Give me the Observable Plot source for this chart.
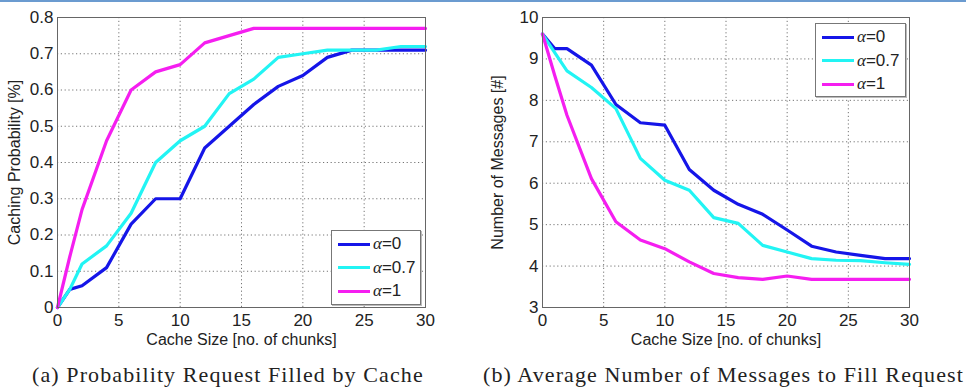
<!DOCTYPE html>
<html>
<head>
<meta charset="utf-8">
<script src="https://cdn.jsdelivr.net/npm/d3@7"></script>
<script src="https://cdn.jsdelivr.net/npm/@observablehq/plot@0.6"></script>
<style>
  html, body { margin: 0; padding: 0; background: #fff; }
  body { width: 966px; height: 388px; position: relative; overflow: hidden; }
  #topline { position: absolute; left: 0; top: 0; width: 966px; height: 2px; background: #6b9bd0; }
  .panel { position: absolute; top: 0; }
  .caption { position: absolute; top: 362px; font-family: "Liberation Serif", "Times New Roman", serif; font-size: 22px; letter-spacing: 1.1px; color: #222; white-space: nowrap; }
  .legend { position: absolute; background: #fff; border: 1px solid #777; box-shadow: 1px 1px 0 #bbb; }
  .legrow { position: absolute; left: 6px; height: 20px; display: flex; align-items: center; font-family: "Liberation Sans", Arial, sans-serif; font-size: 17px; color: #222; }
  .legrow .sw { width: 32px; height: 3px; margin-right: 3px; }
  .legrow i { font-family: "Liberation Serif", serif; font-style: italic; }
</style>
</head>
<body>
<div id="topline"></div>
<script>
// ---- data ----
const cacheSize = [0, 1, 2, 4, 6, 8, 10, 12, 14, 16, 18, 20, 22, 24, 26, 28, 30];
const seriesNames = ["0", "0.7", "1"];
const seriesColors = ["#1515e8", "#22f4f4", "#f51ef0"];

const probAlpha0  = [0, 0.05, 0.06, 0.11, 0.23, 0.30, 0.30, 0.44, 0.50, 0.56, 0.61, 0.64, 0.69, 0.71, 0.71, 0.71, 0.71];
const probAlpha07 = [0, 0.05, 0.12, 0.17, 0.26, 0.40, 0.46, 0.50, 0.59, 0.63, 0.69, 0.70, 0.71, 0.71, 0.71, 0.72, 0.72];
const probAlpha1  = [0, 0.14, 0.27, 0.46, 0.60, 0.65, 0.67, 0.73, 0.75, 0.77, 0.77, 0.77, 0.77, 0.77, 0.77, 0.77, 0.77];

const msgAlpha0  = [9.6, 9.25, 9.25, 8.85, 7.9, 7.46, 7.40, 6.33, 5.83, 5.49, 5.25, 4.87, 4.48, 4.34, 4.26, 4.18, 4.18];
const msgAlpha07 = [9.6, 9.15, 8.71, 8.31, 7.8, 6.60, 6.07, 5.83, 5.17, 5.03, 4.50, 4.34, 4.18, 4.14, 4.13, 4.08, 4.04];
const msgAlpha1  = [9.6, 8.6, 7.64, 6.11, 5.07, 4.63, 4.42, 4.10, 3.82, 3.72, 3.68, 3.76, 3.68, 3.68, 3.68, 3.68, 3.68];

const xTicks = [0, 5, 10, 15, 20, 25, 30];
const yTicksA = [0, 0.1, 0.2, 0.3, 0.4, 0.5, 0.6, 0.7, 0.8];
const yTicksB = [3, 4, 5, 6, 7, 8, 9, 10];

const xLabel = "Cache Size [no. of chunks]";
const yLabelA = "Caching Probability [%]";
const yLabelB = "Number of Messages [#]";
const captionA = "(a) Probability Request Filled by Cache";
const captionB = "(b) Average Number of Messages to Fill Request";

function toRows(arrays) {
  const rows = [];
  arrays.forEach((arr, s) => arr.forEach((v, i) => rows.push({x: cacheSize[i], y: v, s: seriesNames[s]})));
  return rows;
}

function makePlot({rows, yDomain, yTicks, yLabel, marginLeft, marginRight, yFormat}) {
  return Plot.plot({
    width: 483,
    height: 352,
    marginLeft, marginRight,
    marginTop: 17,
    marginBottom: 45,
    style: {fontFamily: "Liberation Sans, Arial, sans-serif", fontSize: "17px", color: "#222", background: "transparent", overflow: "visible"},
    x: {domain: [0, 30], ticks: xTicks},
    y: {domain: yDomain, ticks: yTicks},
    color: {domain: seriesNames, range: seriesColors},
    marks: [
      Plot.gridX(xTicks, {stroke: "#666", strokeOpacity: 0.9, strokeDasharray: "1.2,2.6", strokeWidth: 1}),
      Plot.gridY(yTicks, {stroke: "#666", strokeOpacity: 0.9, strokeDasharray: "1.2,2.6", strokeWidth: 1}),
      Plot.axisX(xTicks, {tickSize: 0, tickPadding: 6, fontSize: 17, label: null}),
      Plot.axisY(yTicks, {tickSize: 0, tickPadding: 4, fontSize: 17, label: null, tickFormat: yFormat}),
      Plot.axisX({ticks: [], label: xLabel, labelAnchor: "center", labelArrow: "none", labelOffset: 37, fontSize: 16}),
      Plot.axisY({ticks: [], label: yLabel, labelAnchor: "center", labelArrow: "none", labelOffset: marginLeft - 8, fontSize: 16}),
      Plot.line(rows, {x: "x", y: "y", z: "s", stroke: "s", strokeWidth: 3.2, strokeLinejoin: "round"}),
      Plot.frame({stroke: "#666", strokeWidth: 1})
    ]
  });
}

function addPanel(left, plotEl, legendPos, caption, captionLeft) {
  const wrap = document.createElement("div");
  wrap.className = "panel";
  wrap.style.left = left + "px";
  wrap.appendChild(plotEl);
  document.body.appendChild(wrap);

  const leg = document.createElement("div");
  leg.className = "legend";
  Object.assign(leg.style, {left: legendPos.left + "px", top: legendPos.top + "px", width: legendPos.w + "px", height: legendPos.h + "px"});
  seriesNames.forEach((name, i) => {
    const row = document.createElement("div");
    row.className = "legrow";
    row.style.top = (3 + i * 23.5) + "px";
    row.innerHTML = `<span class="sw" style="background:${seriesColors[i]}"></span><span><i>α</i>=${name}</span>`;
    leg.appendChild(row);
  });
  document.body.appendChild(leg);

  const cap = document.createElement("div");
  cap.className = "caption";
  cap.style.left = captionLeft + "px";
  cap.textContent = caption;
  document.body.appendChild(cap);
}

const plotA = makePlot({
  rows: toRows([probAlpha0, probAlpha07, probAlpha1]),
  yDomain: [0, 0.8], yTicks: yTicksA, yLabel: yLabelA,
  marginLeft: 57, marginRight: 58,
  yFormat: d => d === 0 ? "0" : d3.format(".1f")(d)
});
const plotB = makePlot({
  rows: toRows([msgAlpha0, msgAlpha07, msgAlpha1]),
  yDomain: [3, 10], yTicks: yTicksB, yLabel: yLabelB,
  marginLeft: 59, marginRight: 57,
  yFormat: d => String(d)
});

addPanel(0, plotA, {left: 331, top: 230, w: 88, h: 73}, captionA, 32);
addPanel(483, plotB, {left: 815, top: 23, w: 89, h: 72}, captionB, 483);
</script>
</body>
</html>
